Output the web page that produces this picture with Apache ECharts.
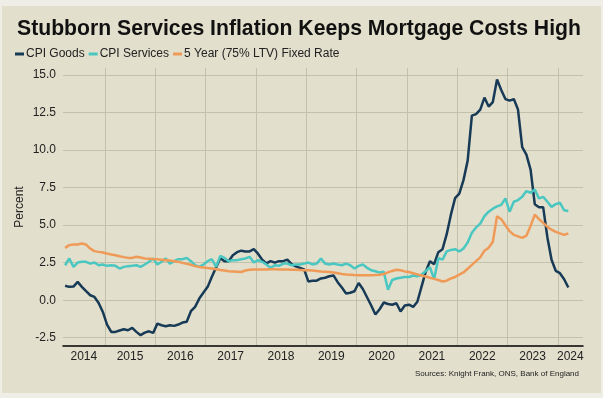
<!DOCTYPE html>
<html>
<head>
<meta charset="utf-8">
<title>Stubborn Services Inflation</title>
<script src="https://cdn.jsdelivr.net/npm/echarts@6/dist/echarts.min.js"></script>
<style>
  html, body { margin: 0; padding: 0; background: #eeede6; }
  #main { width: 603px; height: 398px; }
</style>
</head>
<body>
<div id="main"></div>
<script>
// monthly, Mar 2014 .. Mar 2024 (axis runs on to Jun 2024)
var cpiGoods = [
  0.96, 0.89, 0.91, 1.22, 0.89, 0.6, 0.33, 0.22, -0.18, -0.78,
  -1.62, -2.11, -2.11, -2.02, -1.93, -2.0, -1.84, -2.11, -2.33, -2.16, -2.07, -2.18,
  -1.56, -1.67, -1.73, -1.67, -1.71, -1.62, -1.49, -1.44, -0.73, -0.44, 0.11, 0.51,
  0.89, 1.56, 2.18, 2.8, 2.6, 2.6, 3.0, 3.2, 3.3, 3.25, 3.25, 3.4,
  3.1, 2.7, 2.45, 2.6, 2.5, 2.6, 2.6, 2.7, 2.4, 2.25, 2.15, 2.05,
  1.25, 1.3, 1.3, 1.45, 1.5, 1.6, 1.65, 1.2, 0.85, 0.45, 0.5, 0.6,
  1.15, 0.75, 0.2, -0.35, -0.95, -0.6, -0.15, -0.25, -0.3, -0.2, -0.75, -0.35,
  -0.3, -0.45, -0.1, 0.9, 1.9, 2.6, 2.4, 3.2, 3.4, 4.4, 5.7, 6.8,
  7.1, 8.0, 9.3, 12.3, 12.4, 12.7, 13.5, 12.9, 13.2, 14.7, 14.0, 13.4,
  13.3, 13.4, 12.7, 10.2, 9.7, 8.7, 6.4, 6.2, 6.2, 4.2, 2.7, 1.96,
  1.8, 1.4, 0.85
];
var cpiServices = [
  2.33, 2.78, 2.22, 2.51, 2.56, 2.56, 2.44, 2.51, 2.33, 2.38,
  2.29, 2.33, 2.29, 2.11, 2.22, 2.27, 2.29, 2.33, 2.22, 2.38, 2.56, 2.78,
  2.38, 2.56, 2.78, 2.44, 2.6, 2.73, 2.73, 2.82, 2.6, 2.33, 2.22, 2.38,
  2.6, 2.73, 2.22, 2.95, 2.82, 2.6, 2.67, 2.67, 2.73, 2.78, 2.89, 2.51,
  2.67, 2.56, 2.38, 2.16, 2.33, 2.29, 2.44, 2.44, 2.33, 2.38, 2.38, 2.44,
  2.51, 2.38, 2.44, 2.78, 2.44, 2.38, 2.44, 2.38, 2.33, 2.44, 2.33, 2.11,
  2.29, 2.38, 2.16, 2.0, 1.93, 1.84, 1.89, 0.7, 1.35, 1.45, 1.5, 1.55,
  1.55, 1.65, 1.6, 1.7, 1.95, 2.2, 1.4, 2.8, 2.7, 3.25, 3.35, 3.4,
  3.25, 3.45, 3.85, 4.5, 4.85, 5.1, 5.6, 5.9, 6.1, 6.25, 6.35, 6.78,
  5.9, 6.56, 6.67, 6.89, 7.27, 7.16, 7.38, 6.78, 6.89, 6.56, 6.22, 6.4,
  6.49, 6.0, 5.95
];
var fixedRate = [
  3.49, 3.67, 3.71, 3.71, 3.78, 3.71, 3.44, 3.27, 3.22, 3.18,
  3.11, 3.05, 3.0, 2.93, 2.87, 2.82, 2.82, 2.89, 2.84, 2.78, 2.76, 2.74,
  2.73, 2.7, 2.67, 2.64, 2.6, 2.56, 2.49, 2.42, 2.36, 2.27, 2.22, 2.18,
  2.14, 2.11, 2.07, 2.02, 1.98, 1.93, 1.92, 1.9, 1.88, 1.98, 2.03, 2.05,
  2.05, 2.05, 2.05, 2.07, 2.07, 2.05, 2.05, 2.05, 2.03, 2.03, 2.02, 2.0,
  2.0, 1.98, 1.95, 1.92, 1.9, 1.88, 1.85, 1.8, 1.75, 1.72, 1.7, 1.68,
  1.67, 1.67, 1.67, 1.67, 1.68, 1.7, 1.75, 1.85, 1.95, 2.03, 2.0, 1.92,
  1.88, 1.8, 1.72, 1.65, 1.58, 1.5, 1.42, 1.35, 1.25, 1.3, 1.45, 1.55,
  1.7, 1.85, 2.1, 2.35, 2.6, 2.85, 3.3, 3.5, 3.9, 5.6, 5.4, 5.0,
  4.6, 4.35, 4.25, 4.15, 4.3, 4.95, 5.7, 5.4, 5.15, 4.9, 4.7, 4.55,
  4.45, 4.35, 4.45
];
var yTicks = [-2.5, 0, 2.5, 5, 7.5, 10, 12.5, 15];
// month at which each year's label is centred
var yearLabelMonths = ['2014-07', '2015-06', '2016-06', '2017-06', '2018-06', '2019-06',
  '2020-06', '2021-06', '2022-06', '2023-06', '2024-03'];

var months = [];
for (var y = 2014; y <= 2024; y++) {
  for (var m = 1; m <= 12; m++) {
    if (y == 2014 && m < 3) continue;
    if (y == 2024 && m > 6) continue;
    months.push(y + '-' + (m < 10 ? '0' + m : m));
  }
}
// January boundaries, counted in months from the left edge of the axis
var janLines = [];
for (var k = 0; k < months.length; k++) {
  if (months[k].slice(5) == '01') janLines.push(k);
}

var chart = echarts.init(document.getElementById('main'));
var font = '"Liberation Sans", Arial, sans-serif';
chart.setOption({
  animation: false,
  title: {
    text: 'Stubborn Services Inflation Keeps Mortgage Costs High',
    left: 12, top: 14,
    textStyle: { fontFamily: font, fontWeight: 'bold', fontSize: 21.2, color: '#111' }
  },
  legend: {
    left: 10, top: 43,
    itemWidth: 9, itemHeight: 3, itemGap: 4,
    icon: 'rect',
    textStyle: { fontFamily: font, fontSize: 12, color: '#222', padding: [0, 0, 0, -3] },
    data: ['CPI Goods', 'CPI Services', '5 Year (75% LTV) Fixed Rate']
  },
  grid: { left: 63, right: 20, top: 68, bottom: 52 },
  xAxis: [{
    type: 'category',
    data: months,
    boundaryGap: true,
    axisLine: { onZero: false, lineStyle: { color: '#000', width: 1.5 } },
    axisTick: { show: false },
    axisLabel: {
      interval: function (i, v) { return yearLabelMonths.indexOf(v) >= 0; },
      formatter: function (v) { return v.slice(0, 4); },
      fontFamily: font, fontSize: 12, color: '#222', margin: 5,
      padding: [0, 0, 0, 4]
    },
    splitLine: { show: false }
  }, {
    type: 'value',
    min: 0, max: months.length,
    position: 'bottom',
    axisLine: { show: false },
    axisLabel: { show: false },
    axisTick: { show: false, customValues: janLines },
    splitLine: { show: true, lineStyle: { color: '#c4c1ab', width: 1 } }
  }],
  yAxis: {
    type: 'value',
    min: -3.05, max: 15.47,
    name: 'Percent',
    nameLocation: 'middle',
    nameGap: 37,
    nameMoveOverlap: false,
    nameTextStyle: { fontFamily: font, fontSize: 12, color: '#222' },
    axisLine: { show: false },
    axisTick: { show: false, customValues: yTicks },
    axisLabel: {
      customValues: yTicks,
      formatter: function (v) { return v.toFixed(1); },
      fontFamily: font, fontSize: 12, color: '#222', margin: 7
    },
    splitLine: { show: true, lineStyle: { color: '#c4c1ab', width: 1 } }
  },
  graphic: [{
    type: 'rect', z: -10, silent: true,
    shape: { x: 2, y: 6, width: 599, height: 387 },
    style: { fill: '#e2dfcc' }
  }, {
    type: 'text', right: 24, top: 370,
    style: { text: 'Sources: Knight Frank, ONS, Bank of England', font: '8px ' + font, fill: '#222' }
  }],
  series: [
    { name: 'CPI Goods', type: 'line', data: cpiGoods, showSymbol: false,
      lineStyle: { width: 2.5, color: '#173a57' }, itemStyle: { color: '#173a57' } },
    { name: 'CPI Services', type: 'line', data: cpiServices, showSymbol: false,
      lineStyle: { width: 2.5, color: '#4ac7c1' }, itemStyle: { color: '#4ac7c1' } },
    { name: '5 Year (75% LTV) Fixed Rate', type: 'line', data: fixedRate, showSymbol: false,
      lineStyle: { width: 2.5, color: '#f09a58' }, itemStyle: { color: '#f09a58' } }
  ]
});
</script>
</body>
</html>
